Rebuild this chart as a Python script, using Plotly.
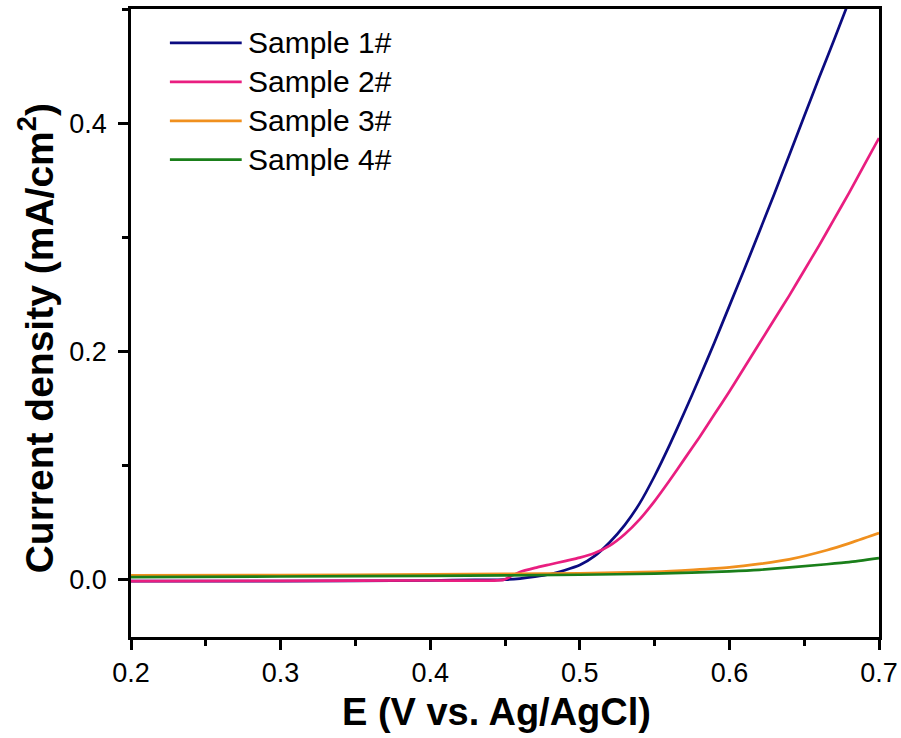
import plotly.graph_objects as go

# ---- data ----
series_names = ["Sample 1#", "Sample 2#", "Sample 3#", "Sample 4#"]
series_colors = ["#0b0b80", "#e91e80", "#f0901e", "#1a7f1a"]

x1 = [0.20, 0.30, 0.40, 0.43, 0.45, 0.46, 0.47, 0.48, 0.49, 0.50, 0.51, 0.52, 0.53, 0.54, 0.55,
      0.56, 0.57, 0.58, 0.59, 0.60, 0.61, 0.62, 0.63, 0.64, 0.65, 0.66, 0.67, 0.68]
y1 = [-0.001, -0.001, -0.0005, 0.0, 0.0003, 0.0012, 0.0028, 0.005, 0.0085, 0.013, 0.021, 0.033, 0.048, 0.067, 0.091,
      0.118, 0.147, 0.177, 0.208, 0.240, 0.272, 0.305, 0.338, 0.372, 0.406, 0.440, 0.473, 0.507]

x2 = [0.20, 0.30, 0.40, 0.449, 0.455, 0.46, 0.47, 0.48, 0.49, 0.50, 0.51, 0.52, 0.53, 0.54, 0.55, 0.56,
      0.57, 0.58, 0.59, 0.60, 0.61, 0.62, 0.63, 0.64, 0.65, 0.66, 0.67, 0.68, 0.69, 0.70]
y2 = [-0.001, -0.0008, -0.0005, 0.0, 0.004, 0.007, 0.0105, 0.0135, 0.0165, 0.0195, 0.0235, 0.030, 0.040, 0.053, 0.069, 0.087,
      0.106, 0.125, 0.145, 0.165, 0.186, 0.207, 0.228, 0.249, 0.271, 0.293, 0.316, 0.339, 0.363, 0.387]

x3 = [0.20, 0.30, 0.40, 0.50, 0.55, 0.576, 0.60, 0.62, 0.64, 0.665, 0.68, 0.70]
y3 = [0.004, 0.0042, 0.0048, 0.0058, 0.007, 0.0088, 0.011, 0.014, 0.018, 0.026, 0.032, 0.041]

x4 = [0.20, 0.30, 0.40, 0.50, 0.55, 0.60, 0.62, 0.665, 0.68, 0.70]
y4 = [0.0025, 0.003, 0.0035, 0.0045, 0.0055, 0.0075, 0.0088, 0.0137, 0.0155, 0.019]

xs = [x1, x2, x3, x4]
ys = [y1, y2, y3, y4]

x_ticks = [0.2, 0.3, 0.4, 0.5, 0.6, 0.7]
y_ticks = [0.0, 0.2, 0.4]

x_title = "<b>E (V vs. Ag/AgCl)</b>"
y_title = "<b>Current density (mA/cm<sup>2</sup>)</b>"

FONT = "Liberation Sans, Arial, sans-serif"

fig = go.Figure()
for name, color, x, y in zip(series_names, series_colors, xs, ys):
    fig.add_trace(go.Scatter(x=x, y=y, mode="lines", name=name,
                             line=dict(color=color, width=2.7, shape="spline", smoothing=0.5),
                             showlegend=False))

# manual legend (long line samples like the reference)
leg_y = [0.946, 0.884, 0.822, 0.760]
for name, color, ly in zip(series_names, series_colors, leg_y):
    fig.add_shape(type="line", xref="paper", yref="paper", x0=0.052, x1=0.148, y0=ly, y1=ly,
                  line=dict(color=color, width=2.7))
    fig.add_annotation(xref="paper", yref="paper", x=0.154, y=ly, text=name, showarrow=False,
                       xanchor="left", yanchor="middle", font=dict(family=FONT, size=30, color="black"))

# axis titles as annotations for exact placement
fig.add_annotation(xref="paper", yref="paper", x=0.489, y=-0.12, text=x_title, showarrow=False,
                   xanchor="center", yanchor="middle", font=dict(family=FONT, size=38, color="black"))
fig.add_annotation(xref="paper", yref="paper", x=-0.128, y=0.476, text=y_title, showarrow=False,
                   textangle=-90, xanchor="center", yanchor="middle",
                   font=dict(family=FONT, size=39, color="black"))

axis_common = dict(showline=True, linecolor="black", linewidth=2.5, mirror=True,
                   ticks="outside", tickwidth=2.5, tickcolor="black", ticklen=10,
                   showgrid=False, zeroline=False,
                   tickfont=dict(family=FONT, size=27, color="black"))

fig.update_xaxes(range=[0.2, 0.7], tickvals=x_ticks, ticktext=[f"{v:.1f}" for v in x_ticks],
                 minor=dict(ticks="outside", ticklen=6, tickwidth=2.5, tickcolor="black", dtick=0.05, tick0=0.2),
                 **axis_common)
fig.update_yaxes(range=[-0.05, 0.5], tickvals=y_ticks, ticktext=[f"{v:.1f}" for v in y_ticks],
                 minor=dict(ticks="outside", ticklen=6, tickwidth=2.5, tickcolor="black", dtick=0.1, tick0=0.0),
                 ticklabelstandoff=6,
                 **axis_common)

fig.update_layout(width=901, height=738, margin=dict(l=131, r=22, t=9, b=101, autoexpand=False),
                  plot_bgcolor="white", paper_bgcolor="white", showlegend=False)

fig.write_html("out.html", config={"displayModeBar": False},
               post_script="document.body.style.margin='0';")
